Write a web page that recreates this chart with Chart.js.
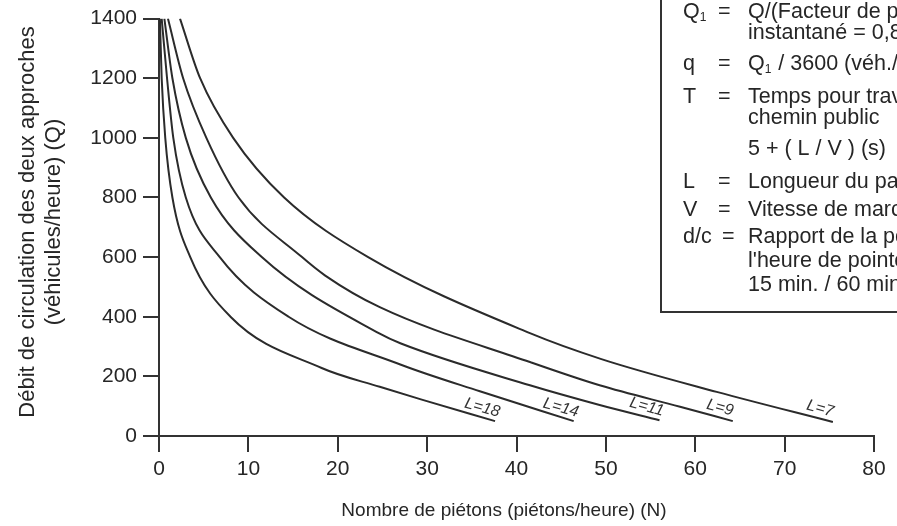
<!DOCTYPE html>
<html>
<head>
<meta charset="utf-8">
<script src="https://cdn.jsdelivr.net/npm/chart.js@4.4.1/dist/chart.umd.min.js"></script>
<style>
  html, body { margin: 0; padding: 0; background: #fff; }
</style>
</head>
<body>
<canvas id="chart" width="897" height="526"></canvas>
<script>
// valeurs : N (piétons/heure) et Q (véhicules/heure)
const curveNames = ["L=18", "L=14", "L=11", "L=9", "L=7"];

const pietonsL18 = [0.1, 0.3, 0.7, 1.5, 3.5, 8, 18.2, 24.7, 29.4, 37.6];
const debitL18   = [1400, 1200, 1000, 800, 600, 400, 228, 165, 122, 50];

const pietonsL14 = [0.3, 0.9, 1.6, 3.0, 6.8, 14.5, 27, 35.9, 46.4];
const debitL14   = [1400, 1200, 1000, 800, 600, 400, 240, 150, 50];

const pietonsL11 = [0.6, 1.5, 3.0, 5.8, 11.5, 24.7, 27, 41.5, 49.3, 56];
const debitL11   = [1400, 1200, 1000, 800, 600, 343, 311, 170, 104, 53];

const pietonsL9 = [1.0, 2.7, 5.3, 8.9, 16, 18.6, 24.7, 41.5, 49.3, 58.3, 64.2];
const debitL9   = [1400, 1200, 1000, 800, 600, 538, 432, 248, 170, 98, 50];

const pietonsL7 = [2.35, 4.6, 8.3, 14, 23.4, 41.5, 49.5, 62.4, 75.4];
const debitL7   = [1400, 1200, 1000, 800, 600, 345, 258, 148, 47];

const xTicks = [0, 10, 20, 30, 40, 50, 60, 70, 80];
const yTicks = [0, 200, 400, 600, 800, 1000, 1200, 1400];

const xTitle = "Nombre de piétons (piétons/heure) (N)";
const yTitle = ["Débit de circulation des deux approches", "(véhicules/heure) (Q)"];

// encadré des définitions (symbole, signe, lignes de texte)
const notes = [
  ["Q1", "=", ["Q/(Facteur de pointe", "instantané = 0,85)"]],
  ["q", "=", ["Q1 / 3600 (véh./s)"]],
  ["T", "=", ["Temps pour traverser le", "chemin public", "5 + ( L / V ) (s)"]],
  ["L", "=", ["Longueur du passage (m)"]],
  ["V", "=", ["Vitesse de marche (m/s)"]],
  ["d/c", "=", ["Rapport de la pointe de", "l'heure de pointe", "15 min. / 60 min."]]
];
const noteRows = [[12, 33], [64], [97, 118, 149], [182], [210], [237, 261, 285]];

const FONT = "'Liberation Sans', Arial, Helvetica, sans-serif";
const INK = "#262626";

const series = [
  [pietonsL18, debitL18], [pietonsL14, debitL14], [pietonsL11, debitL11],
  [pietonsL9, debitL9], [pietonsL7, debitL7]
];

const datasets = series.map(([xs, ys], i) => ({
  label: curveNames[i],
  data: xs.map((v, k) => ({ x: v, y: ys[k] })),
  showLine: true,
  borderColor: "#2b2b2b",
  borderWidth: 2,
  pointRadius: 0,
  cubicInterpolationMode: "monotone",
  fill: false
}));

function drawWithSub(ctx, text, x, y, size) {
  // "Q1" -> Q avec un petit 1 en indice
  if (text.startsWith("Q1")) {
    ctx.font = size + "px " + FONT;
    ctx.fillText("Q", x, y);
    const w = ctx.measureText("Q").width;
    ctx.font = Math.round(size * 0.55) + "px " + FONT;
    ctx.fillText("1", x + w, y + 6);
    const w1 = ctx.measureText("1").width;
    ctx.font = size + "px " + FONT;
    ctx.fillText(text.slice(2), x + w + w1 + 1, y);
  } else {
    ctx.font = size + "px " + FONT;
    ctx.fillText(text, x, y);
  }
}

const curveLabels = {
  id: "curveLabels",
  afterDatasetsDraw(chart) {
    const { ctx, scales: { x, y } } = chart;
    ctx.save();
    ctx.fillStyle = "#333";
    ctx.font = "italic 16px " + FONT;
    ctx.textAlign = "center";
    ctx.textBaseline = "alphabetic";
    chart.data.datasets.forEach(ds => {
      const last = ds.data[ds.data.length - 1];
      ctx.save();
      ctx.translate(x.getPixelForValue(last.x) - 14, y.getPixelForValue(last.y) - 9);
      ctx.rotate(0.27);
      ctx.fillText(ds.label, 0, 0);
      ctx.restore();
    });
    ctx.restore();
  }
};

const notesBox = {
  id: "notesBox",
  afterDraw(chart) {
    const { ctx } = chart;
    ctx.save();
    ctx.fillStyle = "#fff";
    ctx.fillRect(661, -10, 260, 322);
    ctx.strokeStyle = "#333";
    ctx.lineWidth = 2;
    ctx.strokeRect(661, -10, 260, 322);
    ctx.fillStyle = INK;
    ctx.textBaseline = "middle";
    ctx.textAlign = "left";
    notes.forEach(([sym, eq, lines], i) => {
      const rows = noteRows[i];
      drawWithSub(ctx, sym, 683, rows[0], 21.5);
      ctx.font = "21.5px " + FONT;
      ctx.fillText(eq, sym === "d/c" ? 722 : 718, rows[0]);
      lines.forEach((t, k) => drawWithSub(ctx, t, 748, rows[k], 21.5));
    });
    ctx.restore();
  }
};

const axisTitles = {
  id: "axisTitles",
  afterDraw(chart) {
    const { ctx } = chart;
    ctx.save();
    ctx.fillStyle = INK;
    ctx.textAlign = "center";
    ctx.textBaseline = "middle";
    ctx.font = "19px " + FONT;
    ctx.fillText(xTitle, 504, 511);
    ctx.font = "22px " + FONT;
    ctx.translate(0, 222);
    ctx.rotate(-Math.PI / 2);
    yTitle.forEach((t, i) => ctx.fillText(t, 0, 28 + i * 26));
    ctx.restore();
  }
};

new Chart(document.getElementById("chart"), {
  type: "scatter",
  data: { datasets },
  plugins: [curveLabels, notesBox, axisTitles],
  options: {
    responsive: false,
    animation: false,
    layout: { padding: { left: 0, right: 23, top: 17, bottom: 0 } },
    plugins: { legend: { display: false }, tooltip: { enabled: false } },
    scales: {
      x: {
        type: "linear",
        min: 0, max: 80,
        afterBuildTicks: s => { s.ticks = xTicks.map(v => ({ value: v })); },
        afterFit: s => { s.height = 90; },
        border: { display: true, color: "#333", width: 2 },
        grid: { drawOnChartArea: false, drawTicks: true, tickLength: 16, color: "#333", lineWidth: 2 },
        ticks: { color: INK, font: { family: FONT, size: 21 }, padding: 5, maxRotation: 0, callback: v => String(v) }
      },
      y: {
        type: "linear",
        min: 0, max: 1400,
        afterBuildTicks: s => { s.ticks = yTicks.map(v => ({ value: v })); },
        afterFit: s => { s.width = 159; },
        border: { display: true, color: "#333", width: 2 },
        grid: { drawOnChartArea: false, drawTicks: true, tickLength: 16, color: "#333", lineWidth: 2 },
        ticks: { color: INK, font: { family: FONT, size: 21 }, padding: 6, callback: v => String(v) }
      }
    }
  }
});
</script>
</body>
</html>
